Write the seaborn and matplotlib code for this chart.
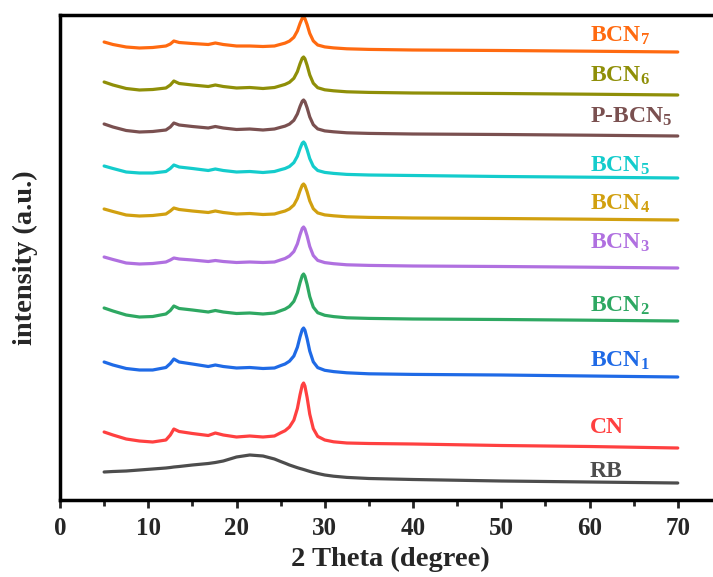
import numpy as np
import pandas as pd
import matplotlib
matplotlib.use("Agg")
import matplotlib.pyplot as plt
import seaborn as sns

# ---------------- data ----------------
two_theta = [5, 6, 7.5, 9, 10.5, 12.0, 12.5, 12.9, 13.5, 15, 16.8, 17.6, 18.5, 20, 21.5, 23, 24.3,
             25.0, 25.5, 26.0, 26.5, 26.9, 27.2, 27.45, 27.6, 27.75, 28.0, 28.3, 28.7, 29.2, 30.0, 31.0,
             32.5, 35, 40, 50, 60, 70]

samples = ["RB", "CN", "BCN1", "BCN2", "BCN3", "BCN4", "BCN5", "P-BCN5", "BCN6", "BCN7"]
labels = ["RB", "CN", "BCN$_{\\mathbf{1}}$", "BCN$_{\\mathbf{2}}$", "BCN$_{\\mathbf{3}}$",
          "BCN$_{\\mathbf{4}}$", "BCN$_{\\mathbf{5}}$", "P-BCN$_{\\mathbf{5}}$",
          "BCN$_{\\mathbf{6}}$", "BCN$_{\\mathbf{7}}$"]
offsets = [17, 52, 123, 179, 232, 280, 322, 364, 405, 448]

I_RB = [11, 11.5, 12, 13, 14, 15, 15.5, 16, 16.5, 18, 19.5, 20.5, 22, 26, 28, 27, 24,
        21.5, 19.8, 18, 16.5, 15.3, 14.5, 13.9, 13.5, 13.1, 12.4, 11.6, 10.6, 9.5, 8, 6.8,
        5.6, 4.5, 3.5, 2, 1, 0]
I_CN = [16, 13, 9, 7, 6, 8, 13, 19, 16.5, 14.5, 12.5, 15, 13, 11, 12, 11, 12,
        15.2, 17.3, 21, 27.9, 39.6, 53.3, 62.9, 65, 62, 50.6, 33.8, 19.4, 11.6, 8, 6.2,
        5, 4.5, 4, 2.5, 1.5, 0]
I_BCN1 = [15, 12, 8.5, 7, 7, 9.5, 13.5, 18, 15, 13, 10.5, 12, 10.5, 9, 9.5, 8.5, 9,
          11.4, 13, 15.8, 21, 29.8, 40.2, 47.4, 49, 46.8, 38.3, 25.9, 15.2, 9.4, 6.7, 5.4,
          4.2, 3.2, 2.6, 2, 1, 0]
I_BCN2 = [13, 10, 6, 4, 4.5, 7, 10.5, 15, 12.5, 11, 9, 10.5, 9, 7.5, 8, 7, 8,
          10.3, 11.9, 14.6, 19.7, 28.3, 38.4, 45.4, 47, 44.8, 36.6, 24.4, 13.9, 8.3, 5.7, 4.4,
          3.2, 2.6, 2, 1.5, 0.8, 0]
I_BCN3 = [11, 8.5, 5, 4, 4.5, 6, 8, 10, 9, 8, 6.5, 7.5, 6.5, 5.5, 6, 5.5, 6,
          8.1, 9.5, 12, 16.5, 24.2, 33.3, 39.6, 41, 39.1, 32, 21.5, 12.5, 7.6, 5.4, 4.3,
          3.2, 2.6, 2, 1.5, 0.8, 0]
I_BCN4 = [11, 8.5, 5, 4, 4.5, 6, 9, 12, 10.5, 9, 7.5, 9, 7.5, 6, 6.5, 5.5, 6,
          7.8, 9, 11.1, 15, 21.6, 29.4, 34.8, 36, 34.4, 28.2, 19.1, 11.3, 7.1, 5.1, 4.2,
          3.2, 2.6, 2, 1.5, 0.8, 0]
I_BCN5 = [12, 9.5, 6, 5, 5, 6.5, 9.5, 13, 11, 9.5, 7.5, 9, 7.5, 6, 6.5, 5.5, 6.5,
          8.3, 9.5, 11.5, 15.4, 21.8, 29.5, 34.8, 36, 34.4, 28.3, 19.4, 11.7, 7.5, 5.6, 4.6,
          3.6, 3, 2.5, 1.5, 0.8, 0]
I_PBCN5 = [12, 9, 5.5, 4, 4.5, 6, 9, 13, 11, 9.5, 8, 9.5, 8, 6.5, 7, 6, 7,
           8.7, 9.9, 11.9, 15.7, 22.1, 29.6, 34.8, 36, 34.4, 28.2, 19.1, 11.3, 7.1, 5.1, 4.2,
           3.2, 2.6, 2, 1.5, 0.8, 0]
I_BCN6 = [13, 10, 6.5, 5, 5.5, 7, 10, 14, 11.5, 10, 8.5, 10, 8.5, 7, 7.5, 6.5, 7.5,
          9.3, 10.6, 12.7, 16.7, 23.4, 31.3, 36.8, 38, 36.3, 29.7, 20.1, 11.8, 7.3, 5.2, 4.2,
          3.2, 2.6, 2, 1.5, 0.8, 0]
I_BCN7 = [10, 7.5, 5, 4, 4.5, 6, 8, 11, 9.5, 8.5, 7.5, 9, 7.5, 6, 6, 5.5, 6,
          7.7, 8.9, 10.9, 14.7, 21.1, 28.6, 33.8, 35, 33.4, 27.4, 18.6, 11.1, 7.0, 5.1, 4.1,
          3.2, 2.6, 2, 1.5, 0.8, 0]

intensities = [I_RB, I_CN, I_BCN1, I_BCN2, I_BCN3, I_BCN4, I_BCN5, I_PBCN5, I_BCN6, I_BCN7]

colors = ["#4d4d4d", "#ff4040", "#1f6ae6", "#2ea862", "#b070e0",
          "#d1a010", "#14cccc", "#7a5050", "#8f8f08", "#ff6a10"]

label_x = 60.0
label_y = [23, 67, 133, 188, 251, 290, 328, 377, 418, 458]

x_ticks = [0, 10, 20, 30, 40, 50, 60, 70]

# ---------------- style ----------------
sns.set_theme(style="ticks")
plt.rcParams["font.family"] = ["Liberation Serif", "DejaVu Serif"]
plt.rcParams["font.weight"] = "bold"
plt.rcParams["mathtext.fontset"] = "custom"
plt.rcParams["mathtext.rm"] = "Liberation Serif:bold"
plt.rcParams["mathtext.bf"] = "Liberation Serif:bold"
plt.rcParams["mathtext.it"] = "Liberation Serif:bold"

rows = []
for s, I, off in zip(samples, intensities, offsets):
    for t, v in zip(two_theta, I):
        rows.append({"two_theta": t, "y": v + off, "sample": s})
df = pd.DataFrame(rows)

fig = plt.figure(figsize=(7.13, 5.77), dpi=100)
ax = fig.add_axes([60 / 713, 1 - 500 / 577, 1 - 60 / 713 + 0.01, (500 - 15) / 577])

sns.lineplot(data=df, x="two_theta", y="y", hue="sample", hue_order=samples,
             palette=dict(zip(samples, colors)), legend=False, linewidth=2.3,
             estimator=None, sort=False, ax=ax)
for ln in ax.get_lines():
    ln.set_solid_joinstyle("round")
    ln.set_solid_capstyle("round")

for lab, col, ly in zip(labels, colors, label_y):
    ax.text(label_x, ly, lab, color=col, fontsize=17, fontweight="bold",
            ha="left", va="baseline")

ax.set_xlim(0, 74.8)
ax.set_ylim(0, 485)
ax.set_xticks(x_ticks)
ax.set_xticklabels([str(t) for t in x_ticks])
ax.set_xticks([5, 15, 25, 35, 45, 55, 65], minor=True)
ax.set_yticks([])
ax.tick_params(axis="x", which="major", direction="out", length=6, width=2,
               labelsize=18, pad=6)
ax.tick_params(axis="x", which="minor", direction="out", length=4, width=2)
for lbl in ax.get_xticklabels():
    lbl.set_fontweight("bold")
for sp in ["left", "bottom", "top"]:
    ax.spines[sp].set_linewidth(2.5)
    ax.spines[sp].set_color("black")
ax.spines["right"].set_visible(False)

ax.set_xlabel("2 Theta (degree)", fontsize=20.5, fontweight="bold", labelpad=5)
ax.set_ylabel("intensity (a.u.)", fontsize=20.5, fontweight="bold", labelpad=16)

fig.savefig("out.png", dpi=100)
